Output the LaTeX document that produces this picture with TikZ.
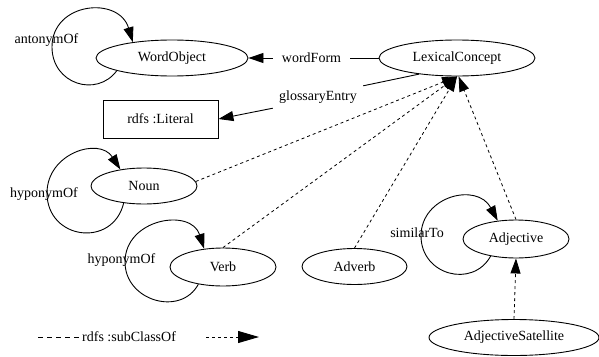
\documentclass[tikz,border=0pt]{standalone}
\usepackage{fontspec}
\setmainfont{Liberation Serif}
\usetikzlibrary{shapes.geometric,arrows.meta}
\begin{document}
\begin{tikzpicture}[x=1pt,y=-1pt,
  every node/.style={font=\rmfamily\fontsize{14}{16}\selectfont},
  cls/.style={draw, ellipse, line width=0.9pt, inner sep=0pt},
  tip/.style={-{Triangle[length=15pt,width=10pt]}},
  rel/.style={line width=0.9pt, tip},
  plain/.style={line width=0.9pt},
  sub/.style={line width=0.8pt, dash pattern=on 3pt off 3pt, tip},
  lbl/.style={inner sep=0pt}]
\useasboundingbox (0,0) rectangle (599,356);

% classes
\node[cls, minimum width=152pt, minimum height=36pt] (wo) at (172,58) {WordObject};
\node[cls, minimum width=156pt, minimum height=36pt] (lc) at (457,58) {LexicalConcept};
\node[draw, rectangle, line width=0.9pt, minimum width=115pt, minimum height=38pt] (lit) at (160.5,119) {rdfs :Literal};
\node[cls, minimum width=106pt, minimum height=36pt] (noun) at (144,186) {Noun};
\node[cls, minimum width=106pt, minimum height=38pt] (verb) at (223,267) {Verb};
\node[cls, minimum width=105pt, minimum height=36pt] (adv) at (354.5,266.5) {Adverb};
\node[cls, minimum width=106pt, minimum height=38pt] (adj) at (516,239) {Adjective};
\node[cls, minimum width=170pt, minimum height=36pt] (sat) at (514,337.5) {AdjectiveSatellite};

% property labels
\node[lbl] (antl) at (46.5,40) {antonymOf};
\node[lbl] (hyn) at (44,194) {hyponymOf};
\node[lbl] (hyv) at (121.5,260) {hyponymOf};
\node[lbl] (siml) at (417,233) {similarTo};
\node[lbl, minimum width=77pt] (wfl) at (311.5,58) {wordForm};
\node[lbl, minimum width=90pt, minimum height=22pt] (gel) at (318,97) {glossaryEntry};

% properties
\draw[plain] (lc.west) -- (wfl.east);
\draw[rel] (wfl.west) -- (wo.east);
\draw[plain] (lc.203) -- (gel.north east);
\draw[rel] (gel.south west) -- (lit.east);

% self loops, each swinging round the left side of its class
\draw[rel] (wo.193) .. controls (96.6,97.9) and (52,84) .. (52,47)
                    .. controls (52,2) and (118.9,-4.3) .. (wo.158);
\draw[rel] (noun.220) .. controls (112.7,248.4) and (47,239.9) .. (47,193)
                      .. controls (47,153.2) and (99.3,136.6) .. (noun.145);
\draw[rel] (verb.215) .. controls (180.7,316.9) and (125,301) .. (125,262)
                      .. controls (125,218.6) and (190.9,207.6) .. (verb.136);
\draw[rel] (adj.214) .. controls (472.5,288.8) and (421,275) .. (421,236)
                     .. controls (421,195.9) and (477.1,182.1) .. (adj.135);

% subclass relations
\draw[sub] (noun.5) -- (lc.south);
\draw[sub] (verb.north) -- (lc.south);
\draw[sub] (adv.north) -- (lc.south);
\draw[sub] (adj.north) -- (lc.-85);
\draw[sub] (sat.north) -- (adj.south);

% legend
\coordinate (lgA) at (38,337);
\node[lbl, anchor=west] (lgt) at (82,337) {rdfs :subClassOf};
\draw[line width=0.9pt, dash pattern=on 5pt off 4pt, shorten >=2pt] (lgA) -- (lgt.west);
\coordinate (lgB) at (206,337);
\coordinate (lgC) at (259,337);
\draw[line width=0.9pt, dash pattern=on 3pt off 3pt, -{Triangle[length=21pt,width=12pt]}] (lgB) -- (lgC);
\end{tikzpicture}
\end{document}
